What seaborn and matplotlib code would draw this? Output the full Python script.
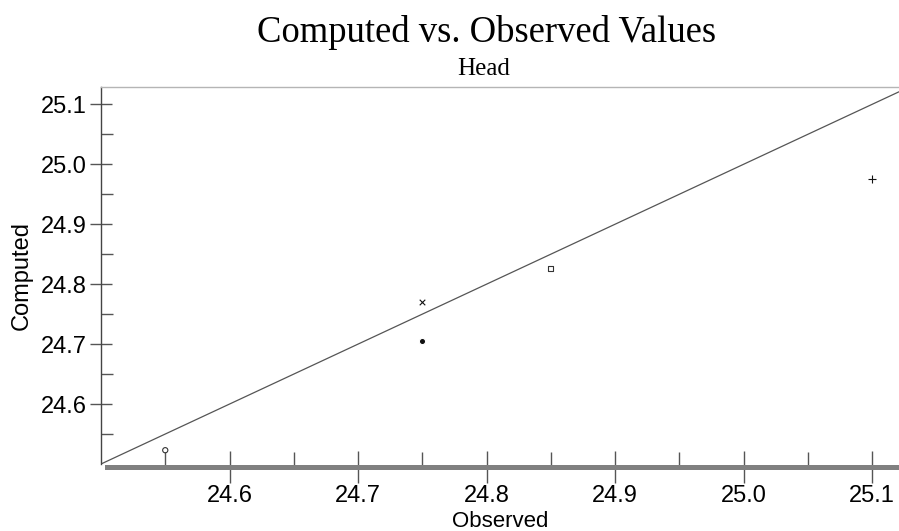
import pandas as pd
import seaborn as sns
import matplotlib.pyplot as plt

# observed / computed head values
observed = [24.55, 24.75, 24.75, 24.85, 25.10]
computed = [24.523, 24.770, 24.705, 24.826, 24.975]
markers = ['o', 'x', 'o', 's', '+']
hollow = [True, False, False, True, False]

x_ticks = [24.6, 24.7, 24.8, 24.9, 25.0, 25.1]
y_ticks = [24.6, 24.7, 24.8, 24.9, 25.0, 25.1]
x_lim = (24.5, 25.121)
y_lim = (24.5, 25.129)

sns.set_style('white')
plt.rcParams['font.family'] = ['Liberation Sans', 'DejaVu Sans']
plt.rcParams['text.color'] = 'black'
plt.rcParams['axes.labelcolor'] = 'black'
plt.rcParams['xtick.labelcolor'] = 'black'
plt.rcParams['ytick.labelcolor'] = 'black'

fig = plt.figure(figsize=(8.99, 5.31), dpi=100)
ax = fig.add_axes([101 / 899, 1 - 464 / 531, 1 - 101 / 899, (464 - 87) / 531])

# 1:1 line
sns.lineplot(x=list(x_lim), y=list(x_lim), ax=ax, color='#555555', linewidth=0.9)

df = pd.DataFrame({'Observed': observed, 'Computed': computed,
                   'marker': markers, 'hollow': hollow})
for _, row in df.iterrows():
    if row['hollow']:
        sns.scatterplot(x=[row['Observed']], y=[row['Computed']], ax=ax,
                        marker=row['marker'], s=14, facecolor='none',
                        edgecolor='#333333', linewidth=0.8, zorder=5)
    else:
        size = {'+': 30, 'x': 16, 'o': 20}[row['marker']]
        sns.scatterplot(x=[row['Observed']], y=[row['Computed']], ax=ax,
                        marker=row['marker'], s=size, color='#111111',
                        linewidth=0.8, zorder=5)

ax.set_xticks(x_ticks)
ax.set_yticks(y_ticks)
ax.set_xticks([t - 0.05 for t in x_ticks], minor=True)
ax.set_yticks([t - 0.05 for t in y_ticks], minor=True)
ax.set_xticklabels([f'{t:.1f}' for t in x_ticks])
ax.set_yticklabels([f'{t:.1f}' for t in y_ticks])
ax.set_xlim(*x_lim)
ax.set_ylim(*y_lim)

ax.tick_params(axis='x', which='major', direction='inout', length=23, width=1,
               color='#555555', labelsize=17, pad=2, bottom=True)
ax.tick_params(axis='x', which='minor', direction='in', length=11, width=1,
               color='#555555', bottom=True)
ax.tick_params(axis='y', which='major', direction='inout', length=16.5, width=1,
               color='#555555', labelsize=17, pad=2, left=True)
ax.tick_params(axis='y', which='minor', direction='in', length=8.6, width=1,
               color='#555555', left=True)

ax.spines['right'].set_visible(False)
ax.spines['left'].set_color('#444444')
ax.spines['left'].set_linewidth(1)
ax.spines['top'].set_color('#b5b5b5')
ax.spines['top'].set_linewidth(1)
ax.spines['bottom'].set_color('#808080')
ax.spines['bottom'].set_linewidth(3.6)
ax.spines['bottom'].set_position(('outward', 1.8))
ax.spines['bottom'].set_bounds(24.5047, x_lim[1])

ax.set_xlabel('Observed', fontsize=16, labelpad=3)
ax.set_ylabel('Computed', fontsize=17, labelpad=6)

fig.text(487 / 899, 1 - 33 / 531, 'Computed vs. Observed Values', ha='center', va='center',
         fontsize=26.4, family=['Liberation Serif', 'DejaVu Serif'])
fig.text(484 / 899, 1 - 69 / 531, 'Head', ha='center', va='center',
         fontsize=18, family=['Liberation Serif', 'DejaVu Serif'])

fig.savefig('out.png', dpi=100)
